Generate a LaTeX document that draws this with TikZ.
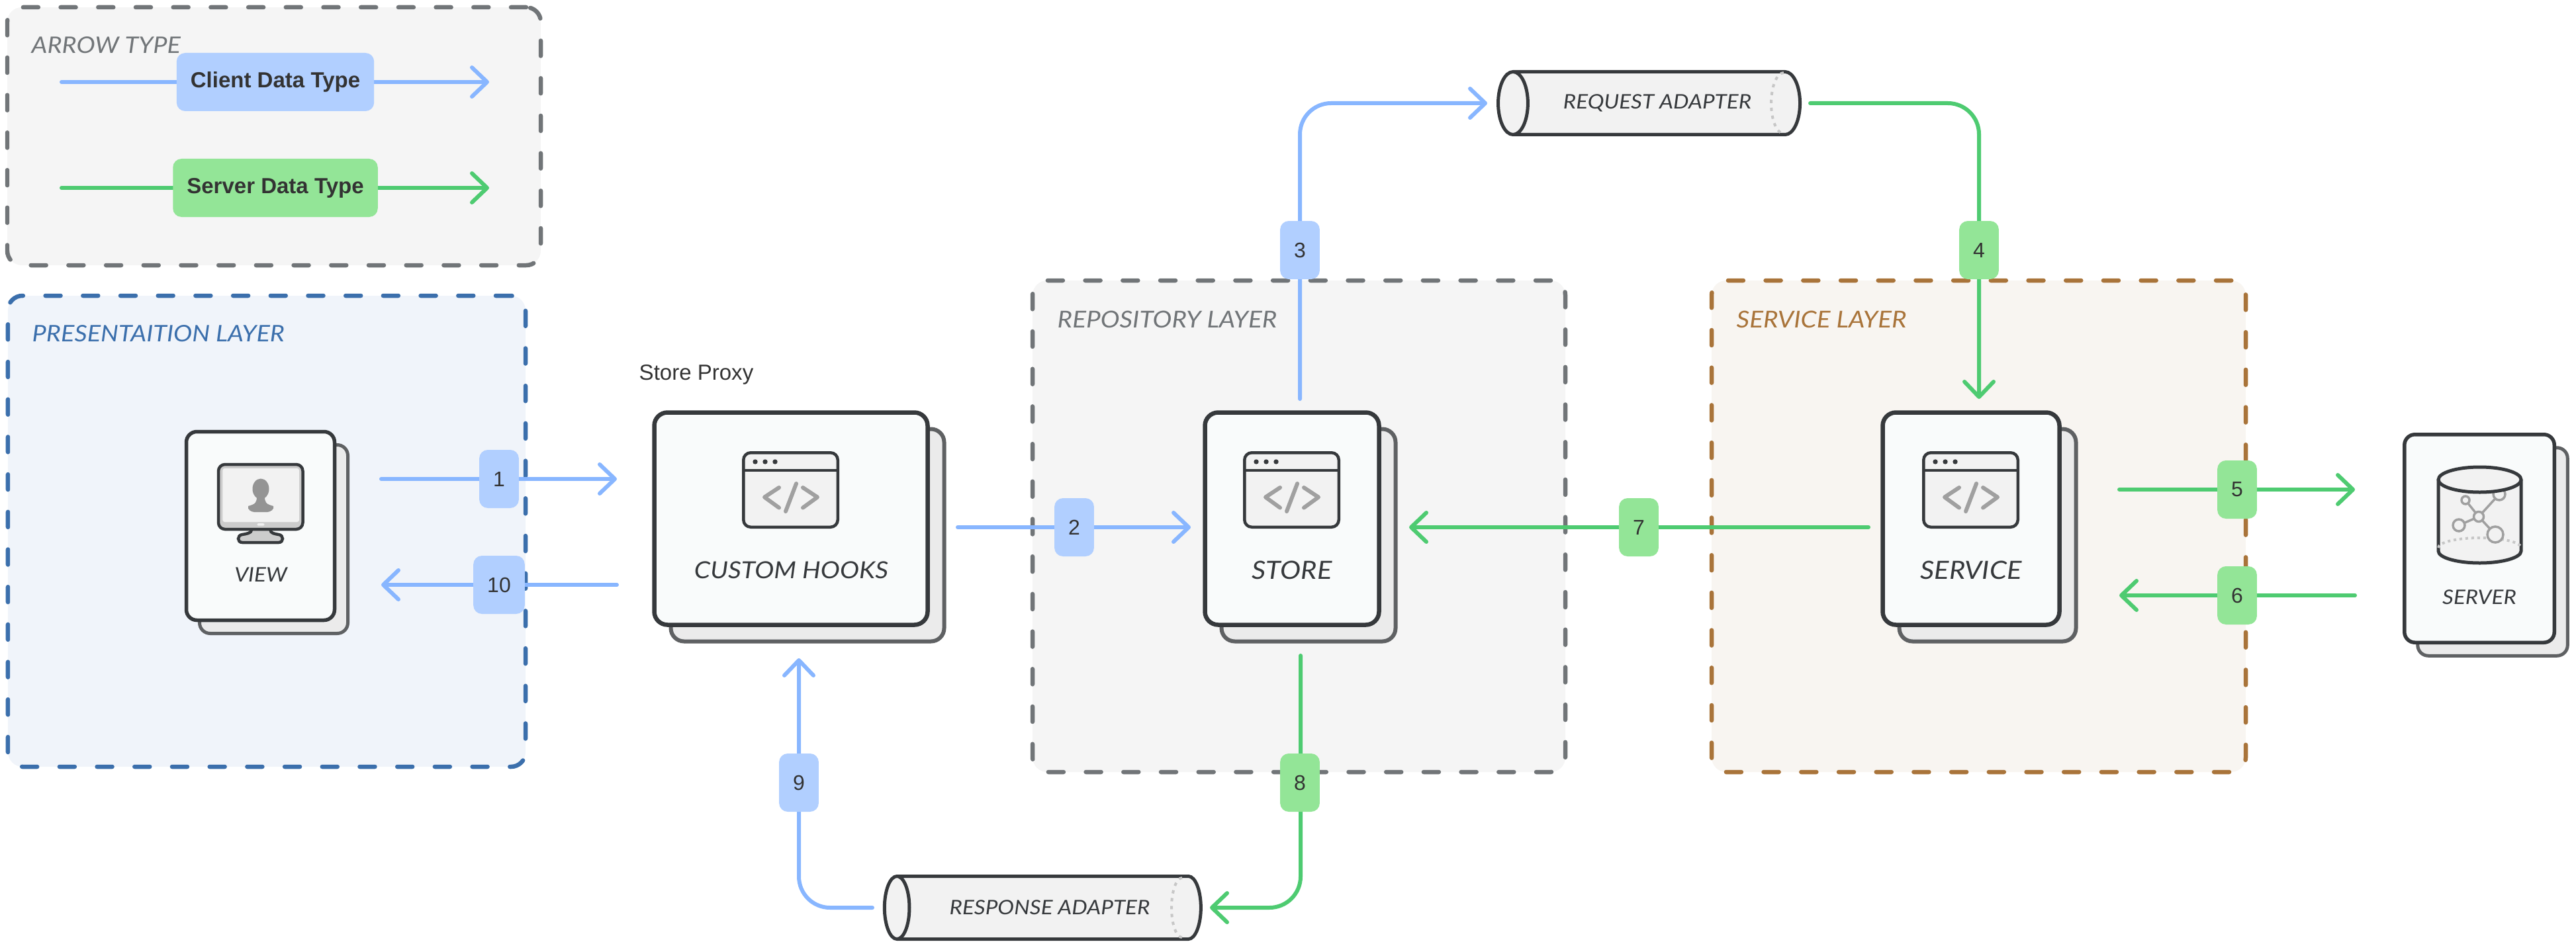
\documentclass[tikz,border=0pt]{standalone}
\usepackage{fontspec}
\setmainfont{Liberation Sans}
\newfontfamily\layerfont[FakeStretch=1.1]{Lato}
\usetikzlibrary{arrows.meta, shapes.geometric}

\definecolor{clientline}{HTML}{88B6FF}
\definecolor{clientfill}{HTML}{B1CFFF}
\definecolor{serverline}{HTML}{4ECB71}
\definecolor{serverfill}{HTML}{93E597}
\definecolor{inkdark}{HTML}{36393C}
\definecolor{inktext}{HTML}{333333}
\definecolor{inkgrey}{HTML}{A0A0A0}
\definecolor{backline}{HTML}{5F6163}
\definecolor{backfill}{HTML}{EBEBEB}
\definecolor{cardfill}{HTML}{F9FBFB}
\definecolor{iconfill}{HTML}{F2F2F2}
\definecolor{greyline}{HTML}{717578}
\definecolor{greyfill}{HTML}{F5F5F5}
\definecolor{blueline}{HTML}{3B6FAC}
\definecolor{bluefill}{HTML}{F0F4FA}
\definecolor{brownline}{HTML}{A9743A}
\definecolor{brownfill}{HTML}{F8F5F1}

% browser window with the code sign, #1 name, #2 centre
\newcommand{\windowicon}[2]{
\begin{scope}[shift={(#2)}]
\node[windowbox] (#1) at (0,0) {};
\draw[inkdark, line width=0.45mm] (-0.71,0.295) -- (0.71,0.295);
\fill[inkdark] (-0.535,0.425) circle (0.037);
\fill[inkdark] (-0.385,0.425) circle (0.037);
\fill[inkdark] (-0.235,0.425) circle (0.037);
\draw[codeline] (-0.175,0.035) -- (-0.395,-0.11) -- (-0.175,-0.27);
\draw[codeline] (0.185,0.035) -- (0.405,-0.11) -- (0.185,-0.27);
\draw[codeline] (0.085,0.095) -- (-0.075,-0.325);
\end{scope}
}

\begin{document}
\begin{tikzpicture}[x=1cm, y=1cm]

\tikzstyle{layerbox}=[draw, rounded corners=0.22cm, line width=0.65mm, line cap=round, dash pattern=on 0.23cm off 0.337cm, inner sep=0]
\tikzstyle{layertitle}=[anchor=west, inner sep=0, font=\layerfont\itshape\fontsize{10}{12}\selectfont]
\tikzstyle{cardback}=[draw=backline, fill=backfill, line width=0.6mm, rounded corners=0.2cm, inner sep=0]
\tikzstyle{cardfront}=[draw=inkdark, fill=cardfill, line width=0.65mm, rounded corners=0.2cm, inner sep=0]
\tikzstyle{cardtext}=[inner sep=0, text=inkdark, font=\layerfont\itshape\fontsize{10.8}{12}\selectfont]
\tikzstyle{smalltext}=[inner sep=0, text=inkdark, font=\layerfont\itshape\fontsize{8.6}{10}\selectfont]
\tikzstyle{windowbox}=[draw=inkdark, fill=iconfill, line width=0.45mm, rounded corners=0.11cm, minimum width=1.425cm, minimum height=1.125cm, inner sep=0]
\tikzstyle{codeline}=[inkgrey, line width=0.6mm, line cap=round, line join=round]
\tikzstyle{pipe}=[draw=inkdark, fill=iconfill, line width=0.5mm, cylinder, shape border rotate=180, shape aspect=1.7, minimum height=4.56cm, minimum width=0.95cm, inner sep=0, text=inkdark, font=\layerfont\itshape\fontsize{8.6}{10}\selectfont]
\tikzstyle{pipearc}=[draw=black!22, line width=0.4mm, dash pattern=on 0.05cm off 0.07cm]
\tikzstyle{numbox}=[rounded corners=0.13cm, minimum height=0.88cm, inner xsep=0.21cm, inner ysep=0, text=inktext, font=\fontsize{9.1}{11}\selectfont]
\tikzstyle{clientbox}=[numbox, fill=clientfill]
\tikzstyle{serverbox}=[numbox, fill=serverfill]
\tikzstyle{arrow}=[line width=0.6mm, line cap=round, -{Straight Barb[length=2.3mm, width=4.4mm, round]}]
\tikzstyle{clientarrow}=[arrow, draw=clientline]
\tikzstyle{serverarrow}=[arrow, draw=serverline]

\useasboundingbox (0,0) rectangle (38.92,-14.32);

% --- layers ---
\node[layerbox, draw=greyline, fill=greyfill, minimum width=8.06cm, minimum height=3.9cm] (legend) at (4.14,-2.06) {};
\node[layerbox, draw=blueline, fill=bluefill, minimum width=7.82cm, minimum height=7.12cm] (presentation) at (4.03,-8.03) {};
\node[layerbox, draw=greyline, fill=greyfill, minimum width=8.05cm, minimum height=7.43cm] (repository) at (19.625,-7.955) {};
\node[layerbox, draw=brownline, fill=brownfill, minimum width=8.07cm, minimum height=7.43cm] (service) at (29.895,-7.955) {};

\node[layertitle, text=greyline, font=\layerfont\itshape\fontsize{9.8}{12}\selectfont] (legendtitle) at (0.47,-0.68) {ARROW TYPE};
\node[layertitle, text=blueline, font=\layerfont\itshape\fontsize{9.8}{12}\selectfont] (presentationtitle) at (0.48,-5.04) {PRESENTAITION LAYER};
\node[layertitle, text=greyline] (repositorytitle) at (15.97,-4.83) {REPOSITORY LAYER};
\node[layertitle, text=brownline] (servicetitle) at (26.23,-4.83) {SERVICE LAYER};

% --- cards ---
\node[cardback, rounded corners=0.16cm, line width=0.5mm, minimum width=2.24cm, minimum height=2.85cm] (viewback) at (4.135,-8.15) {};
\node[cardfront, rounded corners=0.16cm, line width=0.55mm, minimum width=2.24cm, minimum height=2.85cm] (view) at (3.935,-7.95) {};
\node[cardback, minimum width=4.13cm, minimum height=3.21cm] (hooksback) at (12.2,-8.09) {};
\node[cardfront, minimum width=4.13cm, minimum height=3.21cm] (hooks) at (11.95,-7.84) {};
\node[cardback, minimum width=2.63cm, minimum height=3.21cm] (storeback) at (19.77,-8.09) {};
\node[cardfront, minimum width=2.63cm, minimum height=3.21cm] (store) at (19.52,-7.84) {};
\node[cardback, minimum width=2.67cm, minimum height=3.21cm] (serviceback) at (30.03,-8.09) {};
\node[cardfront, minimum width=2.67cm, minimum height=3.21cm] (servicecard) at (29.78,-7.84) {};
\node[cardback, rounded corners=0.16cm, line width=0.5mm, minimum width=2.265cm, minimum height=3.145cm] (serverback) at (37.66,-8.34) {};
\node[cardfront, rounded corners=0.16cm, line width=0.55mm, minimum width=2.265cm, minimum height=3.145cm] (servercard) at (37.46,-8.14) {};

\node[cardtext, font=\layerfont\itshape\fontsize{10.1}{12}\selectfont] (hookstext) at (11.955,-8.62) {CUSTOM HOOKS};
\node[cardtext] (storetext) at (19.52,-8.62) {STORE};
\node[cardtext] (servicetext) at (29.78,-8.62) {SERVICE};
\node[smalltext] (viewtext) at (3.94,-8.69) {VIEW};
\node[smalltext] (servertext) at (37.46,-9.03) {SERVER};

\node[inner sep=0, text=inktext, anchor=west, font=\fontsize{9.4}{11}\selectfont] (proxytext) at (9.65,-5.66) {Store Proxy};

% --- icons ---
\windowicon{hooksicon}{11.945,-7.405}
\windowicon{storeicon}{19.515,-7.405}
\windowicon{serviceicon}{29.775,-7.405}

% monitor
\draw[inkdark, fill=black!20, line width=0.45mm] (3.80,-8.01) .. controls (3.80,-8.06) and (3.72,-8.07) .. (3.66,-8.08) .. controls (3.58,-8.09) and (3.58,-8.20) .. (3.66,-8.20) -- (4.21,-8.20) .. controls (4.29,-8.20) and (4.29,-8.09) .. (4.21,-8.08) .. controls (4.15,-8.07) and (4.085,-8.06) .. (4.085,-8.01);
\draw[inkdark, fill=black!20, line width=0.45mm, rounded corners=0.1cm] (3.30,-7.02) rectangle (4.575,-8.0);
\fill[iconfill, rounded corners=0.03cm] (3.364,-7.08) rectangle (4.52,-7.89);
\fill[black!6, rounded corners=0.015cm] (3.885,-7.91) rectangle (3.995,-7.945);
\fill[black!42] (3.94,-7.39) ellipse (0.125 and 0.155);
\fill[black!42] (3.88,-7.50) .. controls (3.88,-7.60) and (3.86,-7.62) .. (3.75,-7.65) .. controls (3.73,-7.70) and (3.80,-7.74) .. (3.84,-7.74) -- (4.04,-7.74) .. controls (4.08,-7.74) and (4.15,-7.70) .. (4.13,-7.65) .. controls (4.02,-7.62) and (4.0,-7.60) .. (4.0,-7.50) -- cycle;

% server drum
\draw[inkdark, fill=iconfill, line width=0.5mm] (36.84,-7.25) -- (36.84,-8.33) arc[start angle=180, end angle=360, x radius=0.625, y radius=0.18] -- (38.09,-7.25);
\draw[black!22, line width=0.4mm, dash pattern=on 0.04cm off 0.05cm] (36.84,-8.28) arc[start angle=180, end angle=0, x radius=0.625, y radius=0.15];
\draw[inkgrey, line width=0.35mm] (37.45,-7.81) -- (37.25,-7.56);
\draw[inkgrey, line width=0.35mm] (37.45,-7.81) -- (37.76,-7.47);
\draw[inkgrey, line width=0.35mm] (37.45,-7.81) -- (37.15,-7.94);
\draw[inkgrey, line width=0.35mm] (37.45,-7.81) -- (37.70,-8.08);
\draw[inkgrey, line width=0.35mm, fill=iconfill] (37.45,-7.81) circle (0.075);
\draw[inkgrey, line width=0.35mm, fill=iconfill] (37.25,-7.56) circle (0.06);
\draw[inkgrey, line width=0.35mm, fill=iconfill] (37.76,-7.47) circle (0.09);
\draw[inkgrey, line width=0.35mm, fill=iconfill] (37.15,-7.94) circle (0.09);
\draw[inkgrey, line width=0.35mm, fill=iconfill] (37.70,-8.08) circle (0.12);
\draw[inkdark, fill=iconfill, line width=0.5mm] (37.465,-7.25) ellipse (0.625 and 0.19);

% --- adapters ---
\node[pipe] (requestadapter) at (25.04,-1.56) {REQUEST ADAPTER};
\node[pipe, minimum height=4.78cm] (responseadapter) at (15.86,-13.72) {RESPONSE ADAPTER};
\draw[pipearc] (26.95,-1.10) arc[start angle=90, end angle=270, x radius=0.19, y radius=0.46];
\draw[pipearc] (17.86,-13.27) arc[start angle=90, end angle=270, x radius=0.16, y radius=0.45];

% --- free arrow ends ---
\coordinate (legendAin) at (0.93,-1.24);
\coordinate (legendAout) at (7.39,-1.24);
\coordinate (legendBin) at (0.93,-2.84);
\coordinate (legendBout) at (7.39,-2.84);
\coordinate (viewoutA) at (5.76,-7.24);
\coordinate (hooksinA) at (9.32,-7.24);
\coordinate (hooksoutB) at (9.32,-8.84);
\coordinate (viewinB) at (5.76,-8.84);
\coordinate (hooksoutC) at (14.47,-7.97);
\coordinate (storeinC) at (17.99,-7.97);
\coordinate (storeup) at (19.64,-6.03);
\coordinate (requestin) at (22.47,-1.56);
\coordinate (requestout) at (27.35,-1.56);
\coordinate (servicedown) at (29.90,-6.03);
\coordinate (serviceoutA) at (32.02,-7.40);
\coordinate (serverinA) at (35.58,-7.40);
\coordinate (serveroutB) at (35.58,-9.00);
\coordinate (serviceinB) at (32.02,-9.00);
\coordinate (serviceoutC) at (28.23,-7.97);
\coordinate (storeinD) at (21.29,-7.97);
\coordinate (storedown) at (19.65,-9.91);
\coordinate (responsein) at (18.28,-13.72);
\coordinate (responseout) at (13.18,-13.72);
\coordinate (hooksup) at (12.07,-9.95);

% --- arrows ---
\draw[clientarrow] (legendAin) -- (legendAout);
\draw[serverarrow] (legendBin) -- (legendBout);
\draw[clientarrow] (viewoutA) -- (hooksinA);
\draw[clientarrow] (hooksoutB) -- (viewinB);
\draw[clientarrow] (hooksoutC) -- (storeinC);
\draw[clientarrow, rounded corners=0.47cm] (storeup) |- (requestin);
\draw[serverarrow, rounded corners=0.47cm] (requestout) -| (servicedown);
\draw[serverarrow] (serviceoutA) -- (serverinA);
\draw[serverarrow] (serveroutB) -- (serviceinB);
\draw[serverarrow] (serviceoutC) -- (storeinD);
\draw[serverarrow, rounded corners=0.47cm] (storedown) |- (responsein);
\draw[clientarrow, rounded corners=0.47cm] (responseout) -| (hooksup);

% --- arrow labels ---
\node[clientbox, font=\bfseries\fontsize{9.4}{11}\selectfont] (legendA) at (4.16,-1.24) {Client Data Type};
\node[serverbox, font=\bfseries\fontsize{9.4}{11}\selectfont] (legendB) at (4.16,-2.84) {Server Data Type};
\node[clientbox] (num1) at (7.54,-7.24) {1};
\node[clientbox] (num2) at (16.23,-7.97) {2};
\node[clientbox] (num3) at (19.64,-3.78) {3};
\node[serverbox] (num4) at (29.90,-3.78) {4};
\node[serverbox] (num5) at (33.80,-7.40) {5};
\node[serverbox] (num6) at (33.80,-9.00) {6};
\node[serverbox] (num7) at (24.76,-7.97) {7};
\node[serverbox] (num8) at (19.64,-11.83) {8};
\node[clientbox] (num9) at (12.07,-11.83) {9};
\node[clientbox] (num10) at (7.54,-8.84) {10};

\end{tikzpicture}
\end{document}
